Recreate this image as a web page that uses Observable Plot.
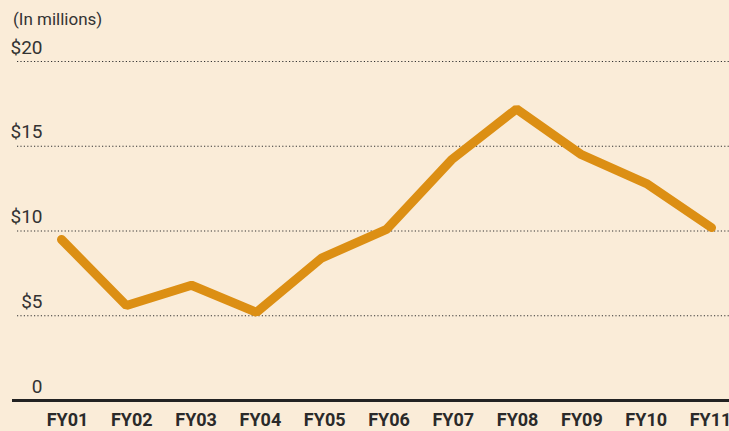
<!DOCTYPE html>
<html>
<head>
<meta charset="utf-8">
<script src="https://cdn.jsdelivr.net/npm/d3@7"></script>
<script src="https://cdn.jsdelivr.net/npm/@observablehq/plot@0.6"></script>
<style>
  html, body { margin: 0; padding: 0; background: #faecd8; }
  #wrap { position: relative; width: 729px; height: 431px; overflow: hidden; }
  #title { position: absolute; left: 13px; top: 9px; font-family: Roboto, "Liberation Sans", sans-serif; font-size: 17px; color: #333; }
</style>
</head>
<body>
<div id="wrap">
  <div id="title">(In millions)</div>
  <div id="chart"></div>
</div>
<script>
const years = ["FY01","FY02","FY03","FY04","FY05","FY06","FY07","FY08","FY09","FY10","FY11"];
const values = [9.5, 5.6, 6.8, 5.2, 8.4, 10.1, 14.2, 17.2, 14.5, 12.8, 10.2];
const yTicks = [0, 5, 10, 15, 20];
const yTickLabels = ["0", "$5", "$10", "$15", "$20"];

const data = years.map((y, i) => ({year: y, value: values[i]}));
const ticks = yTicks.map((v, i) => ({v, label: yTickLabels[i]}));

const chart = Plot.plot({
  width: 729,
  height: 431,
  marginTop: 61,
  marginBottom: 31,
  marginLeft: 59,
  marginRight: 16,
  style: {background: "transparent", fontFamily: "Roboto, 'Liberation Sans', sans-serif", overflow: "visible"},
  x: {type: "point", domain: years, padding: 0, axis: null},
  y: {domain: [0, 20], axis: null},
  marks: [
    Plot.ruleY(yTicks.filter(d => d > 0), {stroke: "#333", strokeWidth: 1.2, strokeDasharray: "1.2,2.2", insetLeft: -42, insetRight: -16}),
    Plot.text(ticks, {y: "v", text: "label", frameAnchor: "left", textAnchor: "end", lineAnchor: "bottom", dx: -17, dy: -8, fontSize: 19, fill: "#333"}),
    Plot.line(data, {x: "year", y: "value", stroke: "#dc8f14", strokeWidth: 9, strokeLinecap: "round", strokeLinejoin: "miter"}),
    Plot.ruleY([0], {stroke: "#222", strokeWidth: 3, insetLeft: -47, insetRight: -16}),
    ...years.map((yr, i) => Plot.text([yr], {x: d => d, frameAnchor: "bottom", lineAnchor: "top", dy: 13, dx: 6 - 0.7 * i, fontSize: 18, fontWeight: 700, fill: "#2a2a2a"}))
  ]
});
document.getElementById("chart").appendChild(chart);
</script>
</body>
</html>
